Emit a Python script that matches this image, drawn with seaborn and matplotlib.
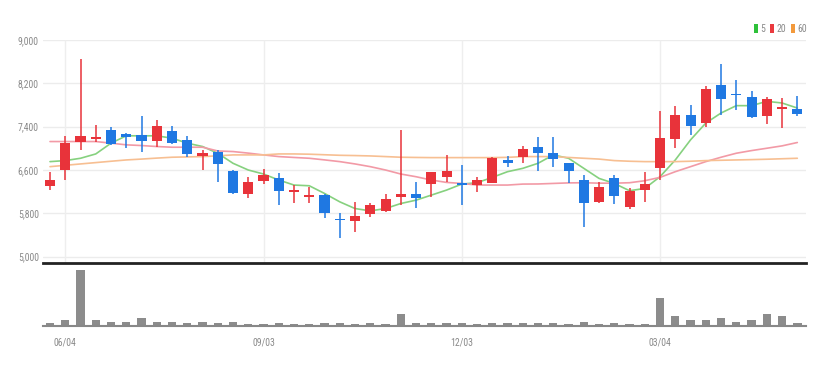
import matplotlib
matplotlib.use("Agg")
import numpy as np
import pandas as pd
import matplotlib.pyplot as plt
import seaborn as sns
from matplotlib.patches import Patch
from matplotlib import font_manager

# ---------------- data (weekly candles) ----------------
dates = pd.date_range("2018-05-28", periods=50, freq="7D")
open_ = [6300, 6590, 7120, 7180, 7340, 7270, 7250, 7125, 7310, 7155,
         6860, 6940, 6585, 6155, 6400, 6445, 6200, 6105, 6135, 5695,
         5660, 5780, 5845, 6105, 6155, 6340, 6475, 6350, 6320, 6365,
         6785, 6835, 7020, 6920, 6720, 6410, 6010, 6445, 5920, 6230,
         6630, 7170, 7620, 7465, 8175, 8010, 7950, 7590, 7725, 7725]
close = [6420, 7090, 7220, 7210, 7080, 7200, 7140, 7415, 7105, 6895,
         6910, 6710, 6180, 6380, 6505, 6215, 6230, 6135, 5795, 5670,
         5750, 5950, 6070, 6155, 6075, 6565, 6585, 6320, 6410, 6815,
         6735, 6980, 6920, 6795, 6585, 5980, 6275, 6115, 6215, 6340,
         7185, 7620, 7405, 8095, 7910, 7975, 7575, 7910, 7760, 7640]
high = [6570, 7220, 8650, 7430, 7390, 7290, 7590, 7525, 7415, 7220,
        6960, 6960, 6600, 6475, 6610, 6550, 6320, 6290, 6155, 5805,
        6010, 5990, 6155, 7340, 6380, 6570, 6880, 6690, 6475, 6845,
        6860, 7045, 7205, 7205, 6725, 6505, 6380, 6505, 6260, 6570,
        7680, 7785, 7805, 8145, 8550, 8255, 8055, 7950, 7930, 7960]
low = [6230, 6410, 6960, 7120, 7060, 7000, 6940, 7030, 7080, 6835,
       6590, 6380, 6150, 6090, 6340, 5950, 5990, 5980, 5720, 5350,
       5455, 5730, 5825, 5950, 5905, 6105, 6380, 5950, 6195, 6350,
       6650, 6720, 6585, 6650, 6350, 5545, 5990, 5965, 5875, 6010,
       6415, 7000, 7250, 7390, 7620, 7710, 7560, 7450, 7370, 7600]
volume = [9, 19, 164, 19, 13, 13, 24, 13, 13, 9,
          13, 9, 13, 5, 5, 9, 5, 5, 9, 9,
          5, 9, 5, 34, 9, 9, 9, 9, 5, 9,
          9, 9, 9, 9, 5, 13, 5, 9, 5, 5,
          82, 28, 18, 19, 23, 13, 19, 34, 28, 9]
ma5 = [6753, 6772, 6815, 6895, 7094, 7230, 7230, 7230, 7186, 7094,
       7032, 6908, 6722, 6598, 6524, 6413, 6320, 6307, 6165, 6010,
       5886, 5843, 5886, 5979, 6041, 6134, 6227, 6338, 6363, 6462,
       6567, 6629, 6722, 6877, 6815, 6629, 6443, 6350, 6215, 6258,
       6475, 6784, 7155, 7465, 7651, 7787, 7787, 7867, 7836, 7743]
ma20 = [7124, 7124, 7124, 7124, 7094, 7063, 7050, 7032, 7019, 7019,
        7019, 6950, 6939, 6910, 6877, 6846, 6830, 6815, 6785, 6753,
        6710, 6660, 6598, 6524, 6474, 6413, 6369, 6350, 6320, 6320,
        6320, 6338, 6340, 6350, 6360, 6363, 6355, 6355, 6363, 6400,
        6462, 6567, 6660, 6753, 6834, 6908, 6957, 7000, 7044, 7106]
ma60 = [6660, 6685, 6710, 6735, 6760, 6784, 6800, 6818, 6834, 6840,
        6846, 6860, 6877, 6877, 6877, 6895, 6895, 6890, 6880, 6870,
        6865, 6858, 6846, 6834, 6830, 6827, 6827, 6827, 6827, 6827,
        6832, 6846, 6846, 6846, 6830, 6815, 6800, 6772, 6760, 6753,
        6753, 6753, 6760, 6772, 6778, 6784, 6790, 6797, 6806, 6815]
tick_labels = ["06/04", "09/03", "12/03", "03/04"]
ma_labels = ["5", "20", "60"]

# ---------------- styling ----------------
UP = "#e8333a"
DOWN = "#1f78e2"
MA_COL = ["#86d17f", "#f29aa6", "#f7bf92"]
LEG_COL = ["#2ec13a", "#ea3a3f", "#f39a3c"]
TXT = "#8a8a8a"

sns.set_theme(style="white")
installed = {f.name for f in font_manager.fontManager.ttflist}
narrow = None
for cand in ["Liberation Sans Narrow", "Roboto Condensed", "Open Sans Condensed",
             "DejaVu Sans Condensed", "Noto Sans Condensed"]:
    if cand in installed:
        narrow = cand
        break
fams = ([narrow] if narrow else []) + ["DejaVu Sans"]
plt.rcParams["font.family"] = fams
fs = 7 if narrow else 6

W, H = 828, 366
fig = plt.figure(figsize=(W / 100, H / 100), dpi=100)

def fr(x0, y0, x1, y1):
    return [x0 / W, 1 - y1 / H, (x1 - x0) / W, (y1 - y0) / H]

ax = fig.add_axes(fr(43, 40, 806, 263))
axv = fig.add_axes(fr(43, 265, 806, 326), sharex=ax)

df = pd.DataFrame({"date": dates, "open": open_, "close": close,
                   "high": high, "low": low, "volume": volume,
                   "ma5": ma5, "ma20": ma20, "ma60": ma60})
df["i"] = np.arange(len(df))
df["up"] = df["close"] >= df["open"]
colors = [UP if u else DOWN for u in df["up"]]

# grid
yt = [5000, 5800, 6600, 7400, 8200, 9000]
tick_idx = [int(np.where(df["date"].dt.strftime("%m/%d") == t)[0][0]) for t in tick_labels]
for y in yt:
    ax.axhline(y, color="#ececec", lw=1, zorder=0)
for t in tick_idx:
    ax.axvline(t, color="#eeeeee", lw=1, zorder=0)

# moving averages
for col, c in zip(["ma5", "ma20", "ma60"], MA_COL):
    sns.lineplot(data=df, x="i", y=col, ax=ax, color=c, lw=1.2, zorder=2)

# candles
ax.vlines(df["i"], df["low"], df["high"], colors=colors, lw=1.1, zorder=3)
body_bottom = np.minimum(df["open"], df["close"])
body_h = np.maximum(np.abs(df["close"] - df["open"]), 20)
ax.bar(df["i"], body_h, bottom=body_bottom, width=0.66, color=colors, zorder=4, linewidth=0)

ax.set_xlim(-0.46, 49.57)
ax.set_ylim(4880, 9000)
ax.set_yticks(yt)
ax.set_yticklabels([f"{v:,}" for v in yt], color=TXT, fontsize=fs)
ax.tick_params(axis="y", length=0, pad=3)
ax.tick_params(axis="x", length=0, labelbottom=False)
ax.set_xlabel("")
ax.set_ylabel("")
for s in ["top", "right", "left"]:
    ax.spines[s].set_visible(False)
ax.spines["bottom"].set_color("#222222")
ax.spines["bottom"].set_linewidth(2)

# volume
axv.bar(df["i"], df["volume"], width=0.55, color="#8c8c8c", linewidth=0, zorder=2)
axv.set_ylim(0, 179)
axv.set_yticks([])
axv.set_xticks(tick_idx)
axv.set_xticklabels(tick_labels, color=TXT, fontsize=fs)
axv.tick_params(axis="x", length=3, color="#555555", width=1, pad=5)
for s in ["top", "right", "left"]:
    axv.spines[s].set_visible(False)
axv.spines["bottom"].set_color("#888888")
axv.spines["bottom"].set_linewidth(1.5)
axv.set_xlabel("")
axv.set_ylabel("")

# legend
handles = [Patch(facecolor=c, edgecolor="none", label=l) for c, l in zip(LEG_COL, ma_labels)]
leg = fig.legend(handles=handles, loc="upper right", bbox_to_anchor=(812 / W, 1 - 19 / H),
                 ncol=3, frameon=False, fontsize=fs, handlelength=0.45, handleheight=1.0,
                 handletextpad=0.25, columnspacing=0.45, borderpad=0, labelcolor=TXT)

fig.savefig("out.png", dpi=100, facecolor="white")
